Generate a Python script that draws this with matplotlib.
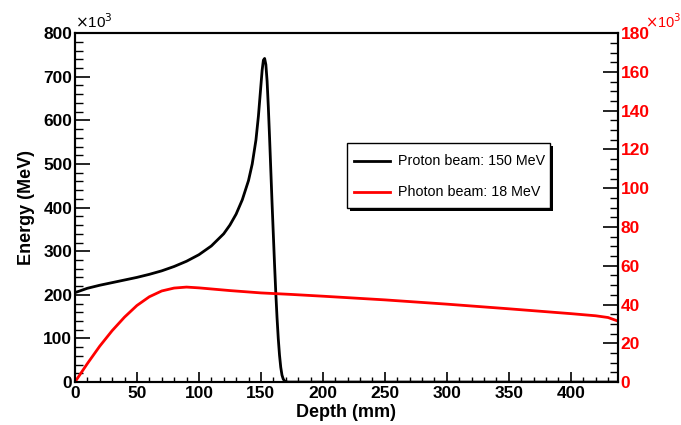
import matplotlib.pyplot as plt
from matplotlib.ticker import MultipleLocator
from matplotlib.patches import Rectangle

plt.rcParams['font.family'] = ['Liberation Sans', 'DejaVu Sans']

# Proton beam, 150 MeV (left axis, x10^3 MeV)
proton_depth = [0, 10, 20, 30, 40, 50, 60, 70, 80, 90, 100, 110, 120, 125, 130, 135,
                140, 143, 146, 148, 150, 151, 152, 153, 154, 155, 156, 157, 158, 159,
                160, 161, 162, 163, 164, 165, 166, 167, 168, 169, 170, 172, 175, 440]
proton_energy = [205, 215, 222, 228, 234, 240, 247, 255, 265, 277, 292, 312, 340, 360,
                 385, 418, 462, 500, 555, 610, 680, 715, 738, 742, 728, 690, 630, 560,
                 485, 410, 340, 270, 205, 148, 100, 62, 34, 16, 7, 3, 1, 0, 0, 0]

# Photon beam, 18 MeV (right axis, x10^3 MeV)
photon_depth = [0, 10, 20, 30, 40, 50, 60, 70, 80, 90, 100, 125, 150, 175, 200, 250,
                300, 350, 400, 420, 430, 440]
photon_energy = [0, 9.5, 18.5, 26.5, 33.5, 39.5, 44, 47, 48.5, 49, 48.6, 47.2, 46,
                 45.2, 44.3, 42.4, 40.2, 37.8, 35.3, 34.2, 33.3, 31.0]

fig = plt.figure(figsize=(6.81, 4.25), dpi=100)
ax = fig.add_axes([0.110, 0.101, 0.7975, 0.821])
ax2 = ax.twinx()

ax.plot(proton_depth, proton_energy, color='black', lw=2.0)
ax2.plot(photon_depth, photon_energy, color='red', lw=2.0)

ax.set_xlim(0, 438)
ax.set_ylim(0, 800)
ax2.set_ylim(0, 180)

ax.xaxis.set_major_locator(MultipleLocator(50))
ax.xaxis.set_minor_locator(MultipleLocator(10))
ax.yaxis.set_major_locator(MultipleLocator(100))
ax.yaxis.set_minor_locator(MultipleLocator(20))
ax2.yaxis.set_major_locator(MultipleLocator(20))
ax2.yaxis.set_minor_locator(MultipleLocator(5))

ax.tick_params(axis='x', which='major', direction='in', length=7, width=1.2,
               labelsize=12.5, pad=3, top=False)
ax.tick_params(axis='x', which='minor', direction='in', length=3.5, width=1.0, top=False)
ax.tick_params(axis='y', which='major', direction='in', length=11, width=1.2,
               labelsize=12.5, pad=2, right=False)
ax.tick_params(axis='y', which='minor', direction='in', length=5.5, width=1.0, right=False)
ax2.tick_params(axis='y', which='major', direction='in', length=11, width=1.2,
                labelsize=12.5, pad=2, labelcolor='red', color='black')
ax2.tick_params(axis='y', which='minor', direction='in', length=5.5, width=1.0, color='black')

for lab in ax.get_xticklabels() + ax.get_yticklabels() + ax2.get_yticklabels():
    lab.set_fontweight('bold')

for a in (ax, ax2):
    for s in a.spines.values():
        s.set_linewidth(1.5)

ax.set_xlabel('Depth (mm)', fontsize=13, fontweight='bold', labelpad=2)
ax.set_ylabel('Energy (MeV)', fontsize=13, fontweight='bold', labelpad=6)

fig.text(75 / 681, 1 - 31 / 425, r'$\times$10$^3$', fontsize=11, ha='left', va='bottom')
fig.text(645 / 681, 1 - 31 / 425, r'$\times$10$^3$', fontsize=10.5, color='red',
         ha='left', va='bottom')

# legend box with shadow, ROOT style
x0, y0, w, h = 347 / 681, (425 - 208) / 425, 203 / 681, 65 / 425
fig.patches.append(Rectangle((x0 + 0.004, y0 - 0.007), w, h, transform=fig.transFigure,
                             facecolor='black', edgecolor='none', zorder=5))
fig.patches.append(Rectangle((x0, y0), w, h, transform=fig.transFigure,
                             facecolor='white', edgecolor='black', lw=1.0, zorder=6))
for i, (lbl, col) in enumerate([('Proton beam: 150 MeV', 'black'),
                                 ('Photon beam: 18 MeV', 'red')]):
    yy = y0 + h * (0.72 - 0.47 * i)
    fig.add_artist(plt.Line2D([354 / 681, 390 / 681], [yy, yy], color=col, lw=2.0,
                              transform=fig.transFigure, zorder=7))
    fig.text(398 / 681, yy, lbl, fontsize=10.3, va='center', ha='left', zorder=7)

fig.savefig('out.png', dpi=100)
